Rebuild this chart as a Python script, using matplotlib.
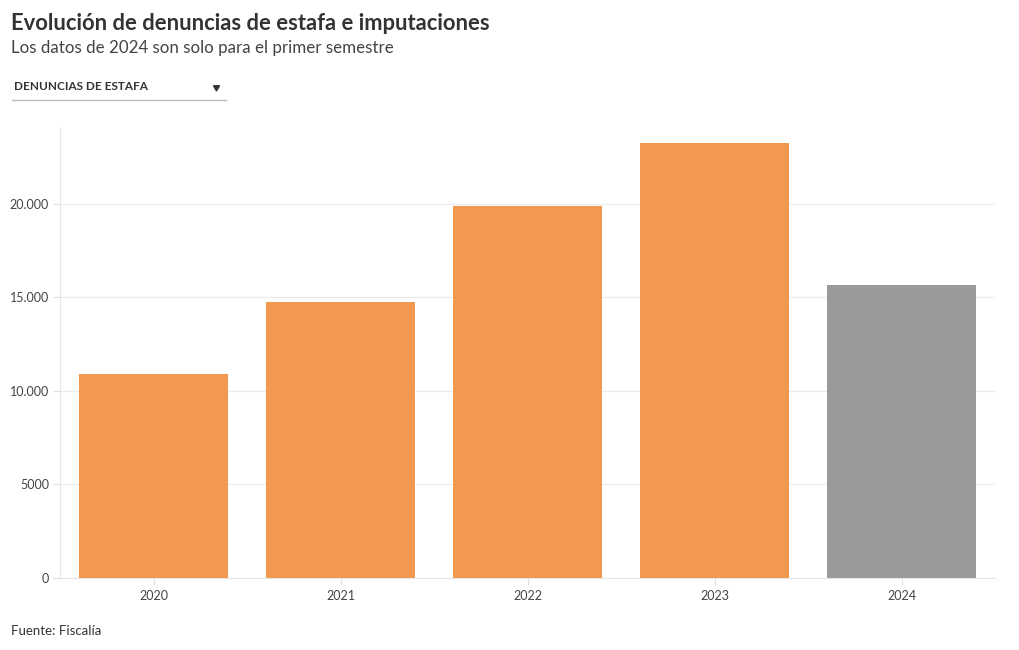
import matplotlib.pyplot as plt
from matplotlib.lines import Line2D

years = ["2020", "2021", "2022", "2023", "2024"]
denuncias = [10890, 14770, 19870, 23280, 15690]
bar_colors = ["#f19a4f", "#f19a4f", "#f19a4f", "#f19a4f", "#9a9a9a"]
y_ticks = [0, 5000, 10000, 15000, 20000]
y_labels = ["0", "5000", "10.000", "15.000", "20.000"]

plt.rcParams['font.family'] = ['Lato', 'DejaVu Sans']

fig = plt.figure(figsize=(10.2, 6.5), dpi=100)
ax = fig.add_axes([60 / 1020, 1 - 578 / 650, 935 / 1020, 450 / 650])

x = range(len(years))
ax.bar(x, denuncias, width=0.8, color=bar_colors, zorder=3)

ax.set_xlim(-0.5, 4.5)
ax.set_ylim(0, 24060)
ax.set_xticks(list(x))
ax.set_xticklabels(years)
ax.set_yticks(y_ticks)
ax.set_yticklabels(y_labels)
ax.grid(axis='y', color='#ebebeb', linewidth=0.9, zorder=0)
ax.tick_params(axis='both', colors='#e0e0e0', labelcolor='#444444', labelsize=9, length=5, width=0.8)
ax.tick_params(axis='x', pad=4)
ax.tick_params(axis='y', pad=3)
for s in ['top', 'right']:
    ax.spines[s].set_visible(False)
ax.spines['left'].set_color('#e6e6e6')
ax.spines['bottom'].set_color('#e6e6e6')

# title block
fig.text(11 / 1020, 1 - 24 / 650, "Evolución de denuncias de estafa e imputaciones",
         fontsize=15.8, fontweight='bold', color='#333333', va='center')
fig.text(11 / 1020, 1 - 48 / 650, "Los datos de 2024 son solo para el primer semestre",
         fontsize=12.2, color='#444444', va='center')

# dropdown
fig.text(14 / 1020, 1 - 87 / 650, "DENUNCIAS DE ESTAFA", fontsize=8.5, fontweight='bold',
         color='#333333', va='center')
fig.add_artist(Line2D([216 / 1020], [1 - 87 / 650], marker=(3, 0, 180), markersize=5,
                      color='#333333', linestyle='none'))
fig.add_artist(Line2D([12 / 1020, 226 / 1020], [1 - 100 / 650, 1 - 100 / 650],
                      color='#bbbbbb', linewidth=1))

fig.text(11 / 1020, 1 - 631 / 650, "Fuente: Fiscalía", fontsize=9.5, color='#333333', va='center')

fig.savefig("out.png", dpi=100)
